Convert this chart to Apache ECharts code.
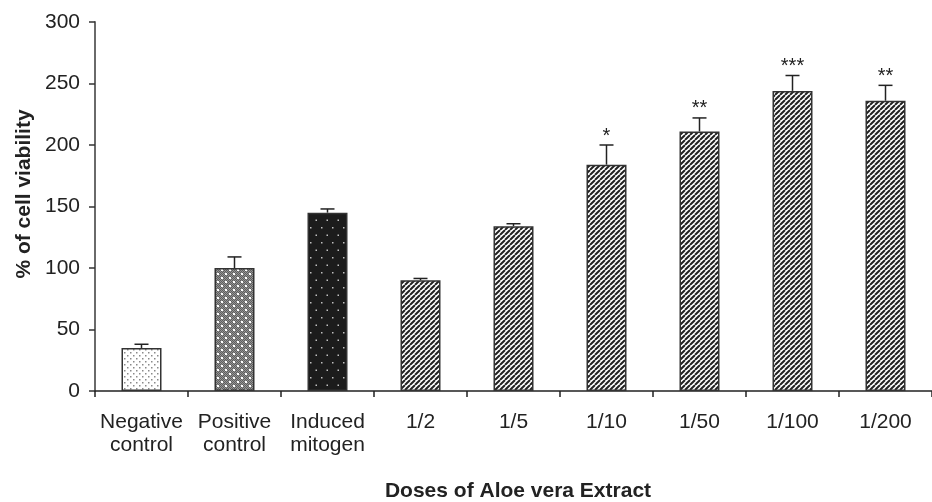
<!DOCTYPE html>
<html><head><meta charset="utf-8">
<script src="https://cdn.jsdelivr.net/npm/echarts@6/dist/echarts.min.js"></script>
<style>html,body{margin:0;padding:0;background:#fff}#c{width:932px;height:502px}</style>
</head><body><div id="c"></div>
<script>
const categories = ['Negative\ncontrol','Positive\ncontrol','Induced\nmitogen','1/2','1/5','1/10','1/50','1/100','1/200'];
const viability = [35, 100, 145, 90, 134, 184, 211, 244, 236];
const errors = [3, 9, 3, 1.5, 2, 16, 11, 12.5, 12.5];
const significance = ['', '', '', '', '', '*', '**', '***', '**'];
const yAxisTitle = '% of cell viability';
const xAxisTitle = 'Doses of Aloe vera Extract';

function tile(w, h, draw){ const c=document.createElement('canvas'); c.width=w; c.height=h; const g=c.getContext('2d'); draw(g,w,h); return c; }
const patNeg = tile(6,6,(g)=>{ g.fillStyle='#fff'; g.fillRect(0,0,6,6); g.fillStyle='#8a8a8a'; g.fillRect(1,1,1.5,1.5); g.fillRect(4,4,1.5,1.5); });
const patPos = tile(8,8,(g)=>{ g.fillStyle='#949494'; g.fillRect(0,0,8,8); g.fillStyle='#5e5e5e'; for(let x=0;x<8;x++)for(let y=0;y<8;y++){ if((x+y)%2===0) g.fillRect(x,y,1,1);} g.fillStyle='#fff'; g.fillRect(1,1,2,2); g.fillRect(5,5,2,2); });
const patInd = tile(11,15,(g)=>{ g.fillStyle='#1c1c1c'; g.fillRect(0,0,11,15); g.fillStyle='#c0c0c0'; g.fillRect(2,2,1.5,1.5); g.fillRect(7.5,9.5,1.5,1.5); });
const patHatch = tile(5,5,(g)=>{ g.fillStyle='#fff'; g.fillRect(0,0,5,5); g.strokeStyle='#222'; g.lineWidth=2; g.beginPath(); for(let k=-1;k<=1;k++){ g.moveTo(k*5,5); g.lineTo(k*5+5,0);} g.stroke(); });
const patterns = [patNeg, patPos, patInd, patHatch, patHatch, patHatch, patHatch, patHatch, patHatch];

const font = "'Liberation Sans', Arial, sans-serif";
const chart = echarts.init(document.getElementById('c'));
chart.setOption({
  animation:false,
  grid:{left:95, top:22, width:846, bottom:111},
  xAxis:{type:'category', data:categories,
    axisLine:{lineStyle:{color:'#222', width:1.5}},
    axisTick:{show:true, length:6, lineStyle:{color:'#222', width:1.5}},
    axisLabel:{interval:0, margin:20, color:'#222', fontSize:21, lineHeight:23, fontFamily:font}},
  yAxis:{type:'value', min:0, max:300, interval:50,
    axisLine:{show:true, lineStyle:{color:'#6a6a6a', width:2}},
    axisTick:{show:true, length:6, lineStyle:{color:'#333', width:1.5}},
    axisLabel:{margin:15, color:'#222', fontSize:21, fontFamily:font},
    splitLine:{show:false}},
  graphic:[
    {type:'text', x:24, y:194, rotation:Math.PI/2, style:{text:yAxisTitle, font:'bold 21px '+font, fill:'#222', textAlign:'center', textVerticalAlign:'middle'}},
    {type:'text', x:518, y:491, style:{text:xAxisTitle, font:'bold 21px '+font, fill:'#222', textAlign:'center', textVerticalAlign:'middle'}}
  ],
  series:[
    {type:'bar', barWidth:40,
     data: viability.map((v,i)=>({value:v, itemStyle:{color:{image:patterns[i], repeat:'repeat'}, borderColor:'#333', borderWidth:1.5}}))},
    {type:'custom', z:5,
     data: viability.map((v,i)=>[i, v, errors[i]]),
     renderItem:(params, api)=>{
       const i=api.value(0), v=api.value(1), e=api.value(2);
       const b=api.coord([i,v]); const t=api.coord([i,v+e]);
       const st={stroke:'#222', lineWidth:1.5};
       const ch=[
         {type:'line', shape:{x1:b[0],y1:b[1],x2:t[0],y2:t[1]}, style:st},
         {type:'line', shape:{x1:t[0]-7,y1:t[1],x2:t[0]+7,y2:t[1]}, style:st}
       ];
       const s=significance[params.dataIndex];
       if(s) ch.push({type:'text', x:t[0], y:t[1]-9, style:{text:s, font:'20px '+font, fill:'#222', textAlign:'center', textVerticalAlign:'middle'}});
       return {type:'group', children:ch};
     }}
  ]
});
</script></body></html>
